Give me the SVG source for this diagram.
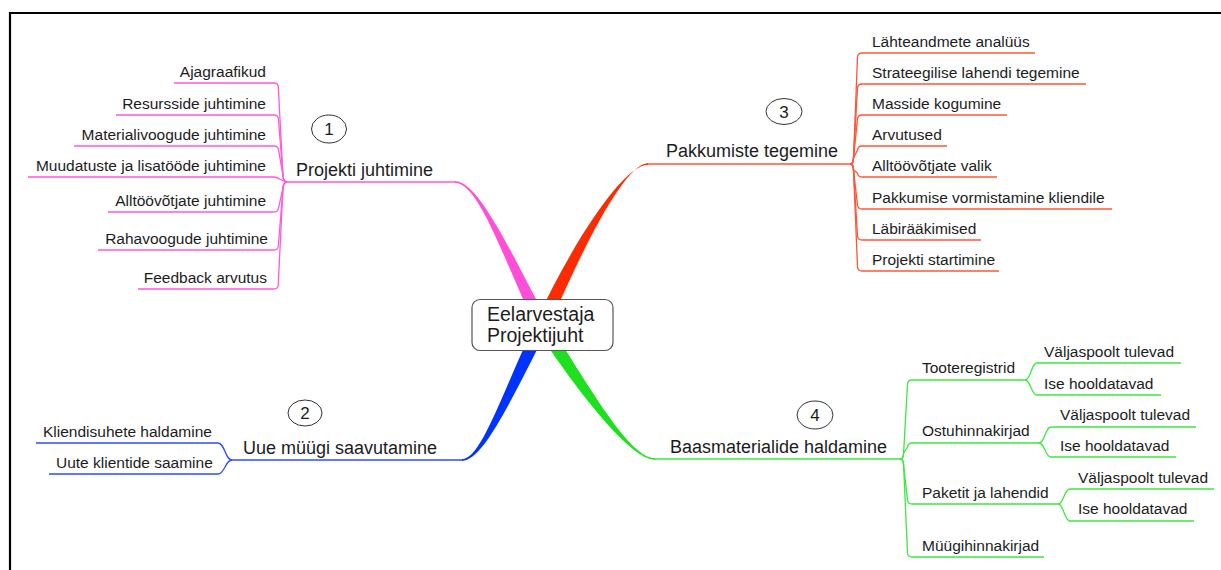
<svg xmlns="http://www.w3.org/2000/svg" width="1221" height="570" viewBox="0 0 1221 570">
<style>
text{font-family:"Liberation Sans",Arial,Helvetica,sans-serif;fill:#1c1c1c}
.t{font-size:15.5px}
.m{font-size:18px}
.c{font-size:19.5px}
.n{font-size:17px;text-anchor:middle}
.e{text-anchor:end}
.ov{fill:#fff;stroke:#333;stroke-width:1}
.ln{fill:none;stroke-width:1.3}
.pk{stroke:#ff5ad9}.rd{stroke:#ff5636}.bl{stroke:#2c4bff}.gr{stroke:#3ee83e}
</style>
<rect width="1221" height="570" fill="#fff"/>
<path d="M10,570 V13 H1221" fill="none" stroke="#000" stroke-width="2.2"/>
<g id="connectors">
 <g class="ln pk">
  <path d="M287,182 H456"/>
  <path d="M174,83 H274 Q278,83 278.3,87 L283,176 Q283.6,182 287,182"/>
  <path d="M116,115 H274 Q278,115 278.4,119 L283,176 Q283.6,182 287,182"/>
  <path d="M74,146 H274 Q278,146 278.6,150 L283,176 Q283.6,182 287,182"/>
  <path d="M28,177 H274 C280,177 282,182 287,182"/>
  <path d="M108,212 H274 Q278,212 278.5,208 L283,188 Q283.6,182 287,182"/>
  <path d="M98,250 H274 Q278,250 278.3,246 L283,188 Q283.6,182 287,182"/>
  <path d="M138,289 H274 Q278,289 278.2,285 L283,188 Q283.6,182 287,182"/>
 </g>
 <path fill="#ff4fd8" d="M455,181.2 C478,181 509,248 548,322 L536,328 C501,252 478,183 455,182.8 Z"/>
 <g class="ln rd">
  <path d="M647,164 H850"/>
  <path d="M850,164 Q853.4,164 853.5,158 L857.5,57 Q858,53 862,53 H1035"/>
  <path d="M850,164 Q853.4,164 853.5,158 L857.5,88 Q858,84 862,84 H1086"/>
  <path d="M850,164 Q853.4,164 853.5,158 L857.5,119 Q858,115 862,115 H1007"/>
  <path d="M850,164 Q853.4,164 853.5,158 L857.5,150 Q858,146 862,146 H947"/>
  <path d="M850,164 Q853.4,164 853.5,170 L857.5,173 Q858,177 862,177 H997"/>
  <path d="M850,164 Q853.4,164 853.5,170 L857.5,205 Q858,209 862,209 H1112"/>
  <path d="M850,164 Q853.4,164 853.5,170 L857.5,236 Q858,240 862,240 H981"/>
  <path d="M850,164 Q853.4,164 853.5,170 L857.5,267 Q858,271 862,271 H999"/>
 </g>
 <path fill="#ff2b00" d="M648,163.2 C626,163 585,242 548.4,327.9 L535.6,322.1 C575,238 624,165 648,164.8 Z"/>
 <g class="ln bl">
  <path d="M232,460 H463"/>
  <path d="M232,460 C225,460 225,443 218,443 H36"/>
  <path d="M232,460 C225,460 225,474 218,474 H49"/>
 </g>
 <path fill="#0033ff" d="M462,459.2 C481,459 500,398 535.7,321.9 L548.3,328.1 C510,402 483,461 462,460.8 Z"/>
 <g class="ln gr">
  <path d="M654,459 H900"/>
  <path d="M900,459 Q903.5,459 903.6,453 L907.5,384 Q908,380 912,380 H1025"/>
  <path d="M900,459 Q903.5,459 903.6,453 L907.5,447 Q908,443 912,443 H1039"/>
  <path d="M900,459 Q903.5,459 903.6,465 L907.5,500 Q908,504 912,504 H1058"/>
  <path d="M900,459 Q903.5,459 903.6,465 L907.5,553 Q908,557 912,557 H1044"/>
  <path d="M1025,380 C1031,380 1031,363 1037,363 H1181"/>
  <path d="M1025,380 C1031,380 1031,395 1037,395 H1161"/>
  <path d="M1039,443 C1045,443 1045,427 1051,427 H1196"/>
  <path d="M1039,443 C1045,443 1045,457 1051,457 H1176"/>
  <path d="M1058,504 C1064,504 1064,489 1070,489 H1214"/>
  <path d="M1058,504 C1064,504 1064,521 1070,521 H1194"/>
 </g>
 <path fill="#1ee01e" d="M655,458.2 C631,458 595,397 547.9,321.2 L536.1,328.8 C585,403 633,460 655,459.8 Z"/>
</g>
<g id="center">
 <rect x="472" y="299.5" width="141" height="51" rx="8" fill="#fff" stroke="#555" stroke-width="1.2"/>
 <text class="c" x="487" y="321">Eelarvestaja</text>
 <text class="c" x="487" y="342">Projektijuht</text>
</g>
<g id="b1">
 <ellipse class="ov" cx="329" cy="129" rx="17.5" ry="14"/>
 <text class="n" x="329" y="135">1</text>
 <text class="m" x="296" y="176">Projekti juhtimine</text>
</g>
<g id="b1-items">
 <text class="t e" x="266" y="77">Ajagraafikud</text>
 <text class="t e" x="266" y="109">Resursside juhtimine</text>
 <text class="t e" x="266" y="140">Materialivoogude juhtimine</text>
 <text class="t e" x="266" y="171">Muudatuste ja lisatööde juhtimine</text>
 <text class="t e" x="266" y="206">Alltöövõtjate juhtimine</text>
 <text class="t e" x="268" y="244">Rahavoogude juhtimine</text>
 <text class="t e" x="267" y="283">Feedback arvutus</text>
</g>
<g id="b2">
 <ellipse class="ov" cx="305" cy="413" rx="17" ry="13"/>
 <text class="n" x="305" y="419">2</text>
 <text class="m" x="243" y="454">Uue müügi saavutamine</text>
</g>
<g id="b2-items">
 <text class="t" x="43" y="437">Kliendisuhete haldamine</text>
 <text class="t" x="56" y="468">Uute klientide saamine</text>
</g>
<g id="b3">
 <ellipse class="ov" cx="784" cy="111.5" rx="18" ry="13"/>
 <text class="n" x="784" y="117.5">3</text>
 <text class="m" x="666" y="157">Pakkumiste tegemine</text>
</g>
<g id="b3-items">
 <text class="t" x="872" y="47">Lähteandmete analüüs</text>
 <text class="t" x="872" y="78">Strateegilise lahendi tegemine</text>
 <text class="t" x="872" y="109">Masside kogumine</text>
 <text class="t" x="872" y="140">Arvutused</text>
 <text class="t" x="872" y="171">Alltöövõtjate valik</text>
 <text class="t" x="872" y="203">Pakkumise vormistamine kliendile</text>
 <text class="t" x="872" y="234">Läbirääkimised</text>
 <text class="t" x="872" y="265">Projekti startimine</text>
</g>
<g id="b4">
 <ellipse class="ov" cx="815" cy="415" rx="18" ry="14"/>
 <text class="n" x="815" y="421">4</text>
 <text class="m" x="670" y="453">Baasmaterialide haldamine</text>
</g>
<g id="b4-items">
 <text class="t" x="922" y="373">Tooteregistrid</text>
 <text class="t" x="1044" y="357">Väljaspoolt tulevad</text>
 <text class="t" x="1044" y="389">Ise hooldatavad</text>
 <text class="t" x="922" y="436">Ostuhinnakirjad</text>
 <text class="t" x="1060" y="420">Väljaspoolt tulevad</text>
 <text class="t" x="1060" y="451">Ise hooldatavad</text>
 <text class="t" x="922" y="498">Paketit ja lahendid</text>
 <text class="t" x="1078" y="483">Väljaspoolt tulevad</text>
 <text class="t" x="1078" y="514">Ise hooldatavad</text>
 <text class="t" x="922" y="551">Müügihinnakirjad</text>
</g>
</svg>
